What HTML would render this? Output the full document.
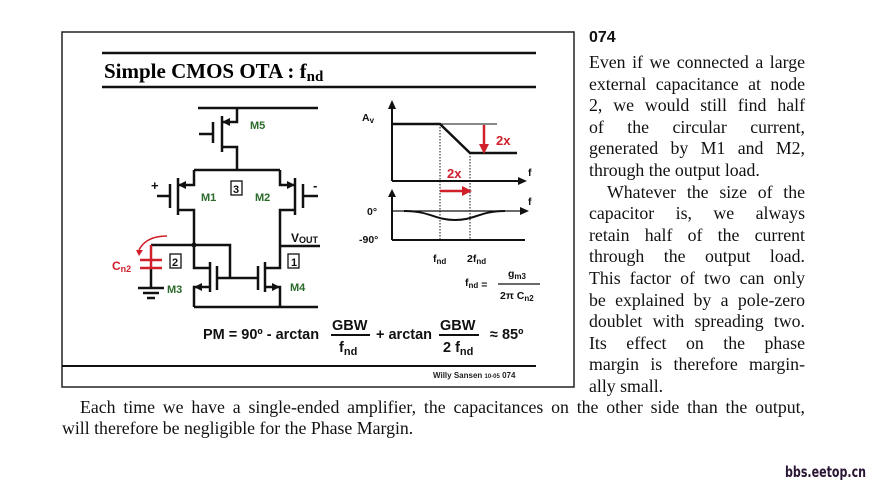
<!DOCTYPE html>
<html><head><meta charset="utf-8"><style>
html,body{margin:0;padding:0;background:#fff;width:869px;height:487px;overflow:hidden;position:relative}
.t{position:absolute;font-family:"Liberation Serif",serif;font-size:17.8px;color:#111;white-space:nowrap;line-height:20px}
.j{width:216px;text-align:justify;text-align-last:justify;white-space:normal}
svg text{font-family:"Liberation Sans",sans-serif;font-weight:bold}
</style></head><body>
<svg width="869" height="487" style="position:absolute;left:0;top:0">
<rect x="62" y="32" width="512" height="355" fill="none" stroke="#222" stroke-width="1.5"/>
<line x1="102" y1="53" x2="536" y2="53" stroke="#111" stroke-width="2.5"/>
<line x1="102" y1="87" x2="536" y2="87" stroke="#111" stroke-width="2.5"/>
<text x="104" y="78" style="font-family:'Liberation Serif',serif;font-size:21px">Simple CMOS OTA : f<tspan font-size="15" dy="3">nd</tspan></text>
<g stroke="#111" stroke-width="2.5" fill="none">
<line x1="198" y1="108" x2="318" y2="108"/>
<polyline points="222,122 237,122 237,108"/>
<polyline points="222,147 237,147 237,170"/>
<line x1="222" y1="116" x2="222" y2="152"/>
<line x1="213" y1="122" x2="213" y2="143"/>
<line x1="199" y1="134" x2="213" y2="134"/>
<line x1="194" y1="170" x2="280" y2="170"/>
<polyline points="178,185 194,185 194,170"/>
<line x1="178" y1="178" x2="178" y2="215"/>
<line x1="170" y1="184" x2="170" y2="208"/>
<line x1="157" y1="196" x2="170" y2="196"/>
<polyline points="178,210 194,210 194,245"/>
<polyline points="295,185 280,185 280,170"/>
<line x1="295" y1="178" x2="295" y2="215"/>
<line x1="303" y1="184" x2="303" y2="208"/>
<line x1="303" y1="196" x2="318" y2="196"/>
<polyline points="295,210 280,210 280,268 265,268"/>
<line x1="280" y1="246" x2="320" y2="246"/>
<polyline points="151,245 230,245 230,278"/>
<line x1="217" y1="278" x2="258" y2="278"/>
<polyline points="194,245 194,268 210,268"/>
<line x1="210" y1="262" x2="210" y2="292"/>
<line x1="217" y1="266" x2="217" y2="290"/>
<polyline points="210,287 194,287 194,307"/>
<line x1="265" y1="262" x2="265" y2="292"/>
<line x1="258" y1="266" x2="258" y2="290"/>
<polyline points="265,287 280,287 280,307"/>
<line x1="194" y1="307" x2="318" y2="307"/>
<line x1="151" y1="269" x2="151" y2="288"/>
<line x1="138" y1="288" x2="164" y2="288"/>
<line x1="143" y1="293" x2="159" y2="293"/>
<line x1="147" y1="298" x2="155" y2="298"/>
</g>
<circle cx="194" cy="245" r="2.5" fill="#111"/>
<g fill="#111">
<polygon points="222,122 230,118 230,126"/>
<polygon points="178,185 186,181 186,189"/>
<polygon points="295,185 287,181 287,189"/>
<polygon points="194,287 202,283 202,291"/>
<polygon points="280,287 272,283 272,291"/>
</g>
<g stroke="#d0202a" stroke-width="2.5" fill="none">
<line x1="151" y1="245" x2="151" y2="269"/>
<line x1="140" y1="260" x2="162" y2="260"/>
<line x1="140" y1="268" x2="162" y2="268"/>
<path d="M167,236 Q146,236 139,250" stroke-width="1.5"/>
</g>
<polygon points="136,250 143,250 139,256" fill="#d0202a"/>
<g font-size="11" fill="#2a6a2a">
<text x="250" y="129">M5</text><text x="201" y="201">M1</text><text x="255" y="201">M2</text>
<text x="167" y="293">M3</text><text x="290" y="291">M4</text>
</g>
<g fill="none" stroke="#111" stroke-width="1.3">
<rect x="231" y="181" width="11" height="14"/><rect x="170" y="254" width="11" height="14"/><rect x="288" y="254" width="11" height="14"/>
</g>
<g font-size="11" fill="#111">
<text x="233" y="193">3</text><text x="172" y="266">2</text><text x="291" y="266">1</text>
<text x="151" y="190" font-size="13">+</text><text x="313" y="190" font-size="13">-</text>
<text x="291" y="242" font-size="12">V<tspan font-size="9" dy="1">OUT</tspan></text>
</g>
<text x="112" y="270" font-size="12" fill="#d0202a">C<tspan font-size="9" dy="2">n2</tspan></text>
<g stroke="#111" fill="none">
<line x1="392" y1="105" x2="392" y2="181" stroke-width="2"/>
<line x1="392" y1="181" x2="520" y2="181" stroke-width="2"/>
<line x1="392" y1="124" x2="497" y2="124" stroke-width="1"/>
<polyline points="392,124 440,124 470,153 517,153" stroke-width="2.5"/>
<line x1="440" y1="124" x2="440" y2="240" stroke-width="1" stroke-dasharray="1.5,1.5"/>
<line x1="470" y1="153" x2="470" y2="240" stroke-width="1" stroke-dasharray="1.5,1.5"/>
<line x1="392" y1="194" x2="392" y2="240" stroke-width="2"/>
<line x1="392" y1="240" x2="525" y2="240" stroke-width="2"/>
<line x1="392" y1="211" x2="522" y2="211" stroke-width="1.3"/>
<path d="M404,211 C430,211 435,220 455,220 C475,220 480,211 505,211" stroke-width="2"/>
</g>
<g fill="#111">
<polygon points="392,100 388,109 396,109"/><polygon points="527,181 518,177 518,185"/>
<polygon points="392,189 388,197 396,197"/><polygon points="529,211 520,207 520,215"/>
</g>
<g stroke="#d0202a" stroke-width="2.5"><line x1="484" y1="125" x2="484" y2="146"/><line x1="440" y1="191" x2="464" y2="191"/></g>
<g fill="#d0202a"><polygon points="484,154 479,144 489,144"/><polygon points="472,191 462,186 462,196"/></g>
<g font-size="13" fill="#d0202a"><text x="496" y="145">2x</text><text x="447" y="178">2x</text></g>
<g font-size="10.5" fill="#111">
<text x="362" y="121">A<tspan font-size="8" dy="2">v</tspan></text>
<text x="528" y="176">f</text><text x="528" y="205">f</text>
<text x="367" y="215">0°</text><text x="359" y="243">-90°</text>
<text x="433" y="262">f<tspan font-size="8" dy="2">nd</tspan></text>
<text x="467" y="262">2f<tspan font-size="8" dy="2">nd</tspan></text>
<text x="465" y="286">f<tspan font-size="8" dy="2">nd</tspan> =</text>
<text x="508" y="277">g<tspan font-size="8" dy="2">m3</tspan></text>
<text x="500" y="299">2π C<tspan font-size="8" dy="2">n2</tspan></text>
</g>
<line x1="498" y1="284" x2="540" y2="284" stroke="#111" stroke-width="1.3"/>
<g font-size="14.5" fill="#111">
<text x="203" y="339">PM = 90º - arctan</text>
<text x="332" y="330">GBW</text><text x="339" y="352">f<tspan font-size="11" dy="3">nd</tspan></text>
<text x="376" y="339">+ arctan</text>
<text x="440" y="330">GBW</text><text x="443" y="352">2 f<tspan font-size="11" dy="3">nd</tspan></text>
<text x="490" y="339">≈ 85º</text>
</g>
<line x1="331" y1="335" x2="370" y2="335" stroke="#111" stroke-width="2"/>
<line x1="439" y1="335" x2="479" y2="335" stroke="#111" stroke-width="2"/>
<line x1="62" y1="366" x2="536" y2="366" stroke="#111" stroke-width="2"/>
<text x="433" y="378" font-size="8" fill="#222">Willy Sansen <tspan font-size="6">10-05</tspan> 074</text>
<text x="785" y="477" font-size="15" fill="#2a1535" textLength="81" lengthAdjust="spacingAndGlyphs" style="font-family:'DejaVu Sans Condensed','Liberation Sans Narrow',sans-serif;font-weight:bold">bbs.eetop.cn</text>
</svg>
<div class="t" style="left:589px;top:28px;font-family:'Liberation Sans',sans-serif;font-weight:bold;font-size:16px">074</div>
<div class="t j" style="left:589px;top:52px">Even if we connected a large</div>
<div class="t j" style="left:589px;top:73.6px">external capacitance at node</div>
<div class="t j" style="left:589px;top:95.2px">2, we would still find half</div>
<div class="t j" style="left:589px;top:116.8px">of the circular current,</div>
<div class="t j" style="left:589px;top:138.4px">generated by M1 and M2,</div>
<div class="t" style="left:589px;top:160px">through the output load.</div>
<div class="t j" style="left:607px;top:181.6px;width:198px">Whatever the size of the</div>
<div class="t j" style="left:589px;top:203.2px">capacitor is, we always</div>
<div class="t j" style="left:589px;top:224.8px">retain half of the current</div>
<div class="t j" style="left:589px;top:246.4px">through the output load.</div>
<div class="t j" style="left:589px;top:268px">This factor of two can only</div>
<div class="t j" style="left:589px;top:289.6px">be explained by a pole-zero</div>
<div class="t j" style="left:589px;top:311.2px">doublet with spreading two.</div>
<div class="t j" style="left:589px;top:332.8px">Its effect on the phase</div>
<div class="t j" style="left:589px;top:354.4px">margin is therefore margin-</div>
<div class="t" style="left:589px;top:376px">ally small.</div>
<div class="t" style="left:80px;top:397px;width:725px;text-align:justify;text-align-last:justify;white-space:normal">Each time we have a single-ended amplifier, the capacitances on the other side than the output,</div>
<div class="t" style="left:62px;top:418px">will therefore be negligible for the Phase Margin.</div>
</body></html>
